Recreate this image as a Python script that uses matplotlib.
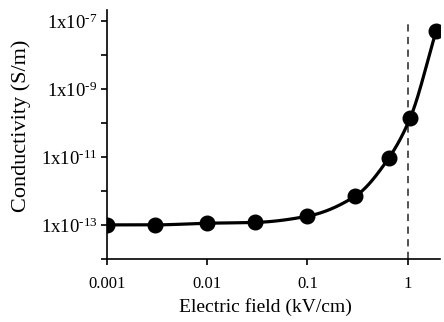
import matplotlib
matplotlib.use("Agg")
import matplotlib.pyplot as plt
import numpy as np
from matplotlib.ticker import FixedLocator, FixedFormatter, NullLocator

plt.rcParams['font.family'] = ['Liberation Serif', 'DejaVu Serif']
plt.rcParams['mathtext.fontset'] = 'custom'
plt.rcParams['mathtext.rm'] = 'Liberation Serif'
plt.rcParams['mathtext.it'] = 'Liberation Serif'

# values
field = np.array([0.001, 0.003, 0.01, 0.03, 0.1, 0.3, 0.65, 1.06, 1.92])
conductivity = np.array([1.0e-13, 1.0e-13, 1.12e-13, 1.18e-13, 1.8e-13,
                         7.0e-13, 9.4e-12, 1.4e-10, 5.0e-8])
xticks = [0.001, 0.01, 0.1, 1]
xticklabels = ['0.001', '0.01', '0.1', '1']
ydecades = [-14, -13, -12, -11, -10, -9, -8, -7]
threshold = 1.0


def pchip(x, y, xs):
    # monotone cubic through the points (log space), just for a smooth line
    h = np.diff(x)
    d = np.diff(y) / h
    m = np.zeros_like(y)
    for k in range(1, len(x) - 1):
        if d[k - 1] * d[k] > 0:
            w1 = 2 * h[k] + h[k - 1]
            w2 = h[k] + 2 * h[k - 1]
            m[k] = (w1 + w2) / (w1 / d[k - 1] + w2 / d[k])
    m[0] = d[0]
    m[-1] = d[-1]
    out = np.empty_like(xs)
    for i, v in enumerate(xs):
        k = min(max(np.searchsorted(x, v) - 1, 0), len(x) - 2)
        t = (v - x[k]) / h[k]
        h00 = 2 * t**3 - 3 * t**2 + 1
        h10 = t**3 - 2 * t**2 + t
        h01 = -2 * t**3 + 3 * t**2
        h11 = t**3 - t**2
        out[i] = h00 * y[k] + h10 * h[k] * m[k] + h01 * y[k + 1] + h11 * h[k] * m[k + 1]
    return out


lx, ly = np.log10(field), np.log10(conductivity)
xs = np.linspace(lx[0], lx[-1], 400)
ys = pchip(lx, ly, xs)

fig = plt.figure(figsize=(4.44, 3.22), dpi=100)
ax = fig.add_axes([0.241, 0.196, 0.75, 0.773])

ax.plot(10**xs, 10**ys, color='black', lw=2.3, solid_capstyle='round', zorder=3)
ax.plot(field, conductivity, 'o', color='black', ms=10.5, zorder=4)
ax.vlines(threshold, 10.0**ydecades[0], 10.0**ydecades[-1], colors='#444444',
          linestyles=(0, (4, 3)), lw=1.3, zorder=2)

ax.set_xscale('log')
ax.set_yscale('log')
ax.set_xlim(0.001, 2.1)
ax.set_ylim(1e-14, 10**-6.68)

ax.xaxis.set_major_locator(FixedLocator(xticks))
ax.xaxis.set_major_formatter(FixedFormatter(xticklabels))
ax.xaxis.set_minor_locator(NullLocator())
yt = [10.0**e for e in ydecades]
ylabels = ['1x10$^{\\text{-}%d}$' % -e if e % 2 else '' for e in ydecades]
ax.yaxis.set_major_locator(FixedLocator(yt))
ax.yaxis.set_major_formatter(FixedFormatter(ylabels))
ax.yaxis.set_minor_locator(NullLocator())

for s in ['top', 'right']:
    ax.spines[s].set_visible(False)
for s in ['left', 'bottom']:
    ax.spines[s].set_linewidth(1.2)
ax.tick_params(direction='out', length=4, width=1.2)
ax.tick_params(axis='x', pad=8, labelsize=12)
ax.tick_params(axis='y', pad=3, labelsize=13.5)

ax.set_xlabel('Electric field (kV/cm)', fontsize=14)
ax.set_ylabel('Conductivity (S/m)', fontsize=16)
ax.xaxis.set_label_coords(0.477, -0.157)
ax.yaxis.set_label_coords(-0.228, 0.536)

fig.savefig('out.png', dpi=100)
